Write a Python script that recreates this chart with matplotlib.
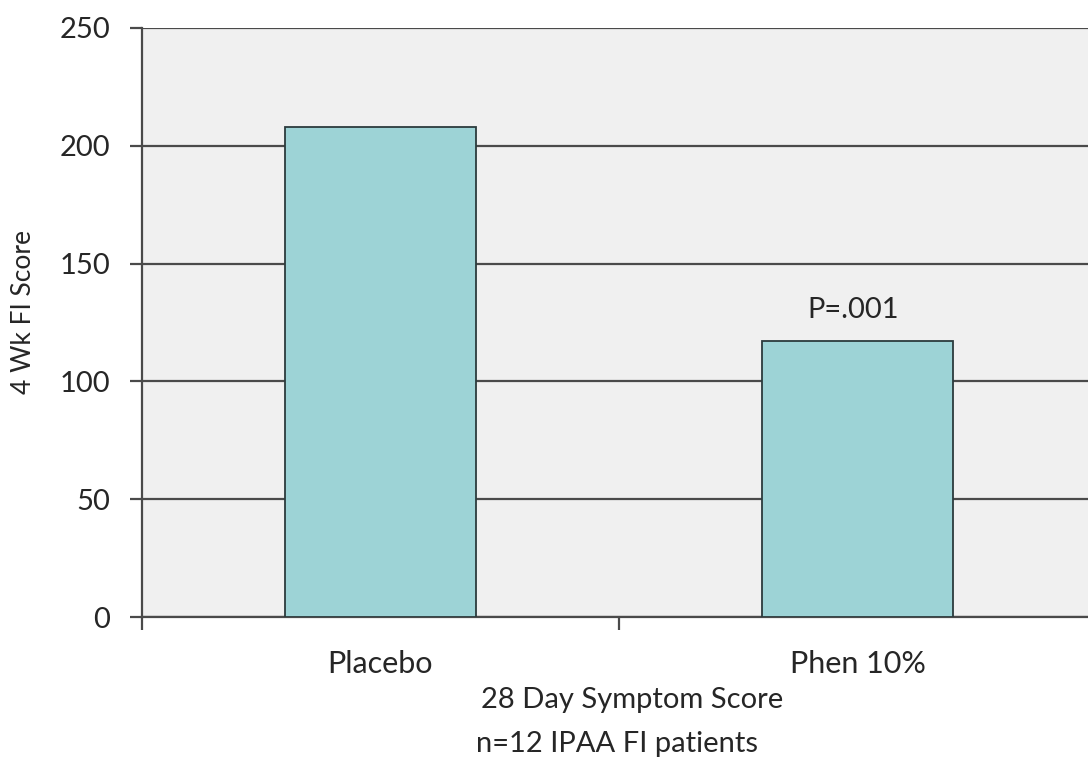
import matplotlib
matplotlib.use("Agg")
import matplotlib.pyplot as plt
from matplotlib.ticker import FixedLocator

categories = ["Placebo", "Phen 10%"]
values = [208, 117]
annotation = "P=.001"
yticks = [0, 50, 100, 150, 200, 250]

plt.rcParams['font.family'] = ['Lato', 'DejaVu Sans']
txt = '#262626'

fig = plt.figure(figsize=(10.88, 7.65), dpi=100)
ax = fig.add_axes([142/1088, 148/765, 954/1088, 589/765])
ax.set_facecolor('#f0f0f0')

x = list(range(len(categories)))
ax.bar(x, values, width=0.4, color='#9dd3d6', edgecolor='#2b3b3d', linewidth=1.3, zorder=3)
ax.set_xlim(-0.5, 1.5)
ax.set_ylim(0, 250)
ax.set_yticks(yticks)
ax.yaxis.grid(True, color='#4a4a4a', linewidth=1.6, zorder=1)
ax.set_axisbelow(True)

for s in ['top', 'right']:
    ax.spines[s].set_visible(False)
ax.spines['left'].set_color('#4a4a4a')
ax.spines['left'].set_linewidth(1.6)
ax.spines['bottom'].set_color('#4a4a4a')
ax.spines['bottom'].set_linewidth(1.6)

ax.set_xticks(x)
ax.set_xticklabels(categories, fontsize=22, color=txt)
ax.tick_params(axis='x', which='major', length=0, pad=24)
ax.xaxis.set_minor_locator(FixedLocator([-0.5, 0.5, 1.5]))
ax.tick_params(axis='x', which='minor', length=9, width=1.6, color='#4a4a4a', direction='out')
ax.tick_params(axis='y', length=9, width=1.6, color='#4a4a4a', direction='out', labelsize=21, labelcolor=txt, pad=14)

ax.text(1 - 0.01, values[1] + 13.5, annotation, ha='center', va='center', fontsize=21, color=txt)

fig.text(24/1088, 1 - 312/765, "4 Wk FI Score", rotation=90, ha='center', va='center', fontsize=19, color=txt)

fig.text(632/1088, 1 - 708/765, "28 Day Symptom Score", ha='center', va='baseline', fontsize=21, color=txt)
fig.text(617/1088, 1 - 752/765, "n=12 IPAA FI patients", ha='center', va='baseline', fontsize=21, color=txt)

fig.savefig("out.png", dpi=100, facecolor='white')
